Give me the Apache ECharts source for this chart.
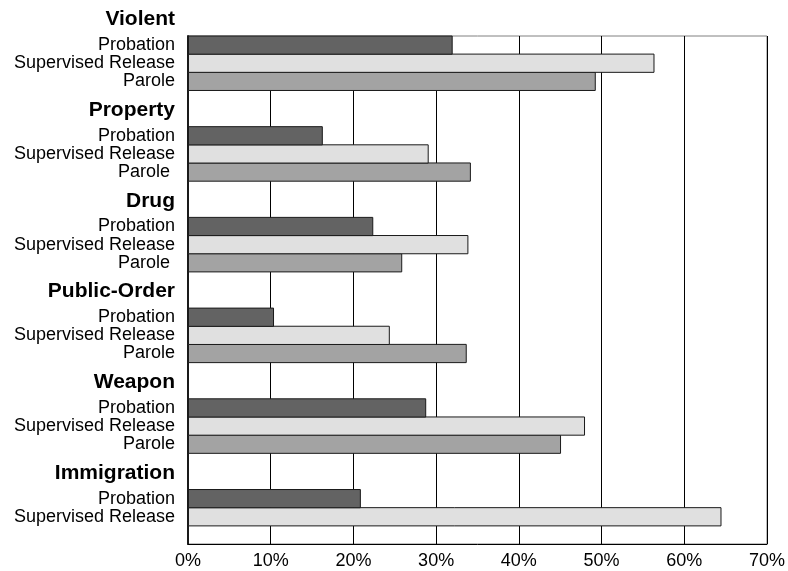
<!DOCTYPE html>
<html>
<head>
<meta charset="utf-8">
<script src="https://cdn.jsdelivr.net/npm/echarts@6/dist/echarts.min.js"></script>
<style>html,body{margin:0;padding:0;background:#fff}#c{width:788px;height:571px}</style>
</head>
<body>
<div id="c"></div>
<script>
// ---- data (top to bottom) ----
var groups = ['Violent', 'Property', 'Drug', 'Public-Order', 'Weapon', 'Immigration'];
var probationLabel = 'Probation';
var supervisedLabel = 'Supervised Release';
var paroleLabels = ['Parole', 'Parole ', 'Parole ', 'Parole', 'Parole', null];
var probation  = [32.0, 16.3, 22.4, 10.4, 28.8, 20.9];
var supervised = [56.4, 29.1, 33.9, 24.4, 48.0, 64.5];
var parole     = [49.3, 34.2, 25.9, 33.7, 45.1, null];
var xTicks = ['0%', '10%', '20%', '30%', '40%', '50%', '60%', '70%'];
var colors = {p: '#636363', s: '#e0e0e0', r: '#a3a3a3'};

// ---- build rows (top -> bottom) ----
var rows = [];
groups.forEach(function (g, i) {
  if (i > 0) {
    rows.push({label: ''});
    rows.push({label: g});
  }
  rows.push({label: probationLabel, key: 'p', v: probation[i]});
  rows.push({label: supervisedLabel, key: 's', v: supervised[i]});
  if (parole[i] != null) rows.push({label: paroleLabels[i], key: 'r', v: parole[i]});
});
rows.push({label: ''});
rows.reverse(); // category axis runs bottom -> top

var cats = rows.map(function (r) { return r.label; });
var barData = rows.map(function (r) {
  return r.key ? {value: r.v, itemStyle: {color: colors[r.key]}} : '-';
});

var FONT = '"Liberation Sans", Arial, Helvetica, sans-serif';

var chart = echarts.init(document.getElementById('c'));
chart.setOption({
  animation: false,
  textStyle: {fontFamily: FONT},
  grid: {left: 188, top: 36, right: 19, bottom: 27, show: true, borderColor: '#808080', borderWidth: 1},
  xAxis: {
    type: 'value', min: 0, max: 70, interval: 10,
    axisLine: {show: true, lineStyle: {color: '#000', width: 1}},
    axisTick: {show: false},
    splitLine: {show: true, lineStyle: {color: '#000', width: 1}},
    axisLabel: {
      fontSize: 18, color: '#000', fontFamily: FONT, margin: 8,
      formatter: function (v) { return xTicks[Math.round(v / 10)]; }
    }
  },
  yAxis: {
    type: 'category', data: cats,
    name: groups[0], nameLocation: 'end', nameGap: 17,
    nameTextStyle: {fontFamily: FONT, fontSize: 21, fontWeight: 'bold', color: '#000', align: 'right', verticalAlign: 'middle', padding: [0, 13, 0, 0]},
    axisLine: {show: true, lineStyle: {color: '#1a1a1a', width: 2}},
    axisTick: {show: false},
    splitLine: {show: false},
    axisLabel: {
      interval: 0, margin: 13, fontSize: 18, color: '#000', fontFamily: FONT,
      formatter: function (v) { return groups.indexOf(v) >= 0 ? '{h|' + v + '}' : v; },
      rich: {h: {fontFamily: FONT, fontSize: 21, fontWeight: 'bold', color: '#000', padding: [0, 0, 15, 0]}}
    }
  },
  series: [{
    type: 'bar', data: barData, barWidth: '106%',
    itemStyle: {borderColor: '#1a1a1a', borderWidth: 1}
  }]
});
</script>
</body>
</html>
